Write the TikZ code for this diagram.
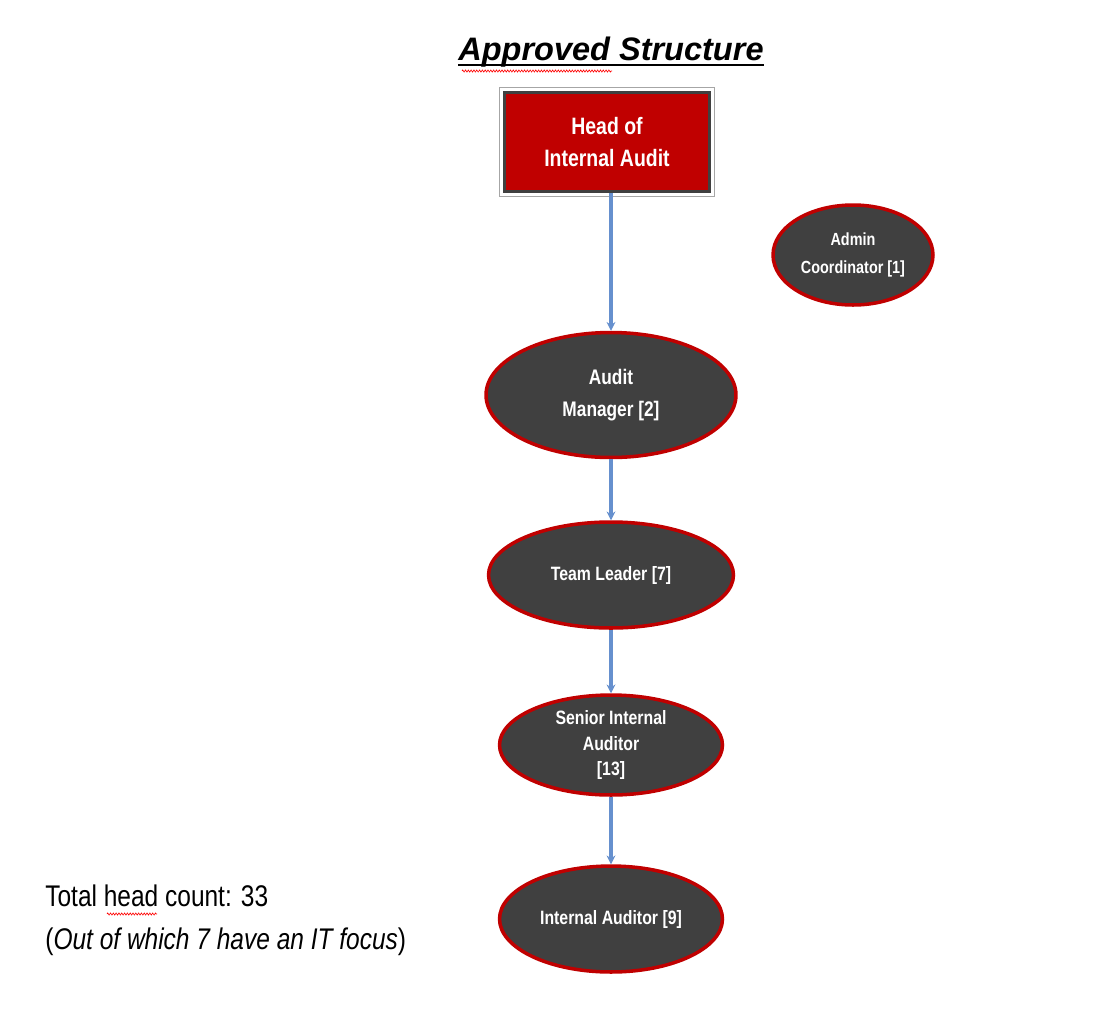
\documentclass[tikz,border=0pt]{standalone}
\usepackage{fontspec}
\setmainfont{Liberation Sans}
\newfontfamily\narrowfont{Liberation Sans}[FakeStretch=0.82]
\usetikzlibrary{shapes.geometric,arrows.meta,decorations.pathmorphing}

\definecolor{boxred}{HTML}{C00000}
\definecolor{boxgray}{HTML}{404040}
\definecolor{linkblue}{HTML}{6690CE}

\begin{document}
\begin{tikzpicture}[x=0.02cm,y=-0.02cm,
    role/.style={ellipse,draw=boxred,line width=2pt,fill=boxgray,text=white,
      inner sep=0pt,align=center,font=\narrowfont\bfseries},
    link/.style={draw=linkblue,line width=2pt,-{Stealth[length=5pt,width=5pt]}},
    spell/.style={draw=red,line width=0.35pt,decorate,
      decoration={zigzag,amplitude=0.6pt,segment length=1.6pt}}]
  \useasboundingbox[fill=white] (0,0) rectangle (1103,1019);

  % title
  \node [inner sep=0pt,anchor=base,font=\fontsize{18.5}{22}\selectfont\bfseries\itshape]
    (title) at (611,60) {Approved Structure};
  \draw [line width=0.9pt] ([yshift=-3pt]title.base west) -- ([yshift=-3pt]title.base east);
  \draw [spell] (462,71) -- (612,71);

  % boxes
  \node [draw=boxgray,line width=2.2pt,fill=boxred,text=white,align=center,
    minimum width=4.1cm,minimum height=1.98cm,
    font=\narrowfont\bfseries\fontsize{13.5}{18}\selectfont] (head) at (607,142)
    {Head of\\Internal Audit};
  \draw [gray!70,line width=0.6pt] ([shift={(-2pt,2pt)}]head.north west)
    rectangle ([shift={(2pt,-2pt)}]head.south east);

  \node [role,minimum width=3.2cm,minimum height=2.0cm,font=\narrowfont\bfseries\fontsize{10}{16}\selectfont]
    (admin) at (853,255) {Admin\\Coordinator [1]};
  \node [role,minimum width=5.0cm,minimum height=2.5cm,font=\narrowfont\bfseries\fontsize{12}{18}\selectfont]
    (mgr) at (611,395) {Audit\\Manager [2]};
  \node [role,minimum width=4.9cm,minimum height=2.12cm,font=\narrowfont\bfseries\fontsize{11}{15}\selectfont]
    (lead) at (611,575) {Team Leader [7]};
  \node [role,minimum width=4.46cm,minimum height=2.0cm,font=\narrowfont\bfseries\fontsize{11}{14.5}\selectfont]
    (senior) at (611,745) {Senior Internal\\Auditor\\{}[13]};
  \node [role,minimum width=4.46cm,minimum height=2.12cm,font=\narrowfont\bfseries\fontsize{11}{15}\selectfont]
    (auditor) at (611,919) {Internal Auditor [9]};

  % reporting lines
  \draw [link] (mgr.north |- head.south) -- (mgr.north);
  \draw [link] (mgr.south) -- (lead.north);
  \draw [link] (lead.south) -- (senior.north);
  \draw [link] (senior.south) -- (auditor.north);

  % head count
  \node [inner sep=0pt,anchor=base west,align=left,
    font=\narrowfont\fontsize{17}{24}\selectfont] (count) at (45,949)
    {Total head count: 33\\(\textit{Out of which 7 have an IT focus})};
  \draw [spell] (107,914) -- (157,914);
\end{tikzpicture}
\end{document}
